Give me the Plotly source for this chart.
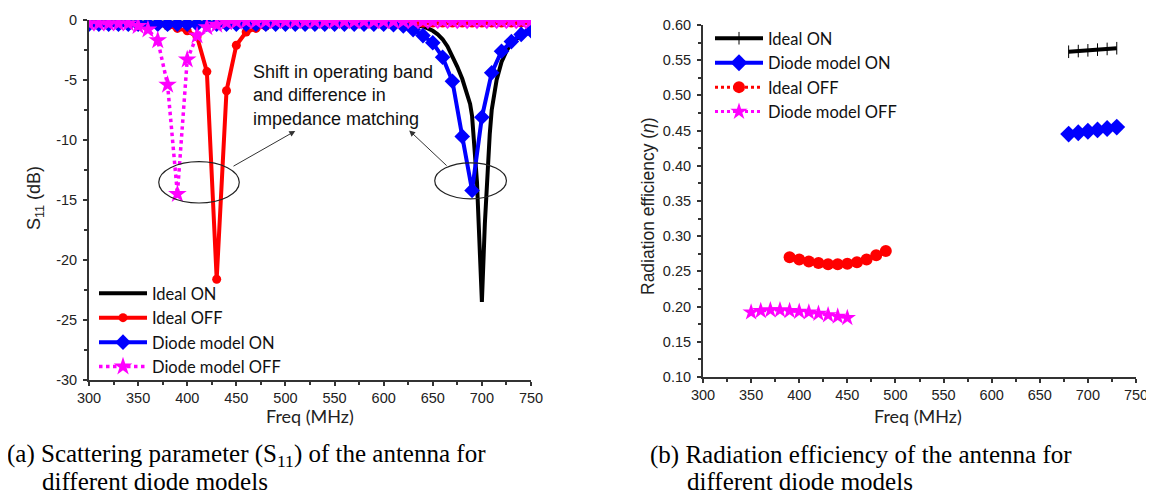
import plotly.graph_objects as go

# ---------------- data: (a) S11 ----------------
freq_on = [300, 350, 400, 450, 500, 550, 600, 620, 630, 640, 645, 650, 655, 660, 665, 670, 675, 680, 685,
           688, 690, 693, 695, 697, 700, 703, 705, 708, 710, 715, 720, 725, 730, 740, 750]
s11_ideal_on = [-0.2, -0.2, -0.2, -0.2, -0.2, -0.2, -0.25, -0.3, -0.4, -0.55, -0.7, -0.9, -1.2, -1.6, -2.2,
                -3.0, -3.9, -4.9, -6.2, -7.0, -8.0, -10.8, -13.5, -17.5, -23.5, -17.0, -13.6, -9.5, -7.5,
                -5.0, -3.5, -2.6, -1.9, -1.3, -1.0]

freq10 = list(range(300, 751, 10))
s11_ideal_off = [-0.2, -0.2, -0.2, -0.25, -0.3, -0.3, -0.35, -0.4, -0.5, -0.7, -0.9, -1.4, -4.3, -21.6,
                 -5.9, -2.1, -1.0, -0.7, -0.5, -0.4, -0.35, -0.3, -0.3, -0.3, -0.3, -0.25, -0.25, -0.25,
                 -0.25, -0.25, -0.25, -0.25, -0.25, -0.25, -0.25, -0.25, -0.25, -0.25, -0.25, -0.25,
                 -0.25, -0.25, -0.25, -0.25, -0.25, -0.25]
s11_diode_on = [-0.35, -0.35, -0.35, -0.35, -0.35, -0.35, -0.35, -0.35, -0.35, -0.35, -0.35, -0.35, -0.35,
                -0.35, -0.35, -0.35, -0.35, -0.35, -0.35, -0.35, -0.35, -0.35, -0.35, -0.35, -0.35, -0.35,
                -0.35, -0.35, -0.35, -0.35, -0.35, -0.4, -0.5, -0.8, -1.3, -1.9, -3.1, -5.1, -9.7, -14.2,
                -8.1, -4.4, -2.6, -1.8, -1.2, -0.9]
s11_diode_off = [-0.3, -0.3, -0.3, -0.3, -0.3, -0.5, -0.8, -1.7, -5.4, -14.5, -3.3, -1.3, -0.6, -0.4,
                 -0.2, -0.15, -0.1, -0.1, -0.1, -0.1, -0.1, -0.1, -0.1, -0.1, -0.1, -0.1, -0.1, -0.1,
                 -0.1, -0.1, -0.1, -0.1, -0.1, -0.1, -0.1, -0.1, -0.1, -0.1, -0.1, -0.1, -0.1, -0.1,
                 -0.1, -0.1, -0.1, -0.1]
s11_ticks = [0, -5, -10, -15, -20, -25, -30]
s11_ticktext = ["0", "-5", "-10", "-15", "-20", "-25", "-30"]

# ---------------- data: (b) radiation efficiency ----------------
freq_eff_on = [680, 690, 700, 710, 720, 730]
eff_ideal_on = [0.562, 0.563, 0.564, 0.565, 0.566, 0.567]
eff_diode_on = [0.445, 0.447, 0.449, 0.451, 0.453, 0.455]
freq_eff_ideal_off = [390, 400, 410, 420, 430, 440, 450, 460, 470, 480, 490]
eff_ideal_off = [0.270, 0.267, 0.264, 0.262, 0.260, 0.260, 0.261, 0.263, 0.267, 0.273, 0.279]
freq_eff_diode_off = [350, 360, 370, 380, 390, 400, 410, 420, 430, 440, 450]
eff_diode_off = [0.192, 0.194, 0.195, 0.195, 0.194, 0.193, 0.192, 0.190, 0.188, 0.186, 0.184]

BLACK, RED, BLUE, MAG = "#000000", "#ff0000", "#0000ff", "#ff00ff"
AX = "#333333"
SANS = "Liberation Sans, Arial, sans-serif"
CAL = "Lato, Carlito, sans-serif"
SERIF = "Liberation Serif, Times New Roman, serif"

fig = go.Figure()

# ---- left subplot traces ----
fig.add_trace(go.Scatter(x=freq_on, y=s11_ideal_on, name="Ideal ON", mode="lines",
                         line=dict(color=BLACK, width=4), xaxis="x", yaxis="y", legend="legend"))
fig.add_trace(go.Scatter(x=freq10, y=s11_ideal_off, name="Ideal OFF", mode="lines+markers",
                         line=dict(color=RED, width=4), marker=dict(symbol="circle", size=9, color=RED),
                         xaxis="x", yaxis="y", legend="legend"))
fig.add_trace(go.Scatter(x=freq10, y=s11_diode_on, name="Diode model ON", mode="lines+markers",
                         line=dict(color=BLUE, width=4), marker=dict(symbol="diamond", size=12, color=BLUE),
                         xaxis="x", yaxis="y", legend="legend"))
fig.add_trace(go.Scatter(x=freq10, y=s11_diode_off, name="Diode model OFF", mode="lines+markers",
                         line=dict(color=MAG, width=3.5, dash="dot"),
                         marker=dict(symbol="star", size=14, color=MAG),
                         xaxis="x", yaxis="y", legend="legend"))

# ---- right subplot traces ----
fig.add_trace(go.Scatter(x=freq_eff_on, y=eff_ideal_on, name="Ideal ON", mode="lines+markers",
                         line=dict(color=BLACK, width=4),
                         marker=dict(symbol="line-ns", size=9, color=BLACK, line=dict(width=1, color=BLACK)),
                         xaxis="x2", yaxis="y2", legend="legend2"))
fig.add_trace(go.Scatter(x=freq_eff_on, y=eff_diode_on, name="Diode model ON", mode="lines+markers",
                         line=dict(color=BLUE, width=4), marker=dict(symbol="diamond", size=13, color=BLUE),
                         xaxis="x2", yaxis="y2", legend="legend2"))
fig.add_trace(go.Scatter(x=freq_eff_ideal_off, y=eff_ideal_off, name="Ideal OFF", mode="lines+markers",
                         line=dict(color=RED, width=3, dash="dot"),
                         marker=dict(symbol="circle", size=12, color=RED),
                         xaxis="x2", yaxis="y2", legend="legend2"))
fig.add_trace(go.Scatter(x=freq_eff_diode_off, y=eff_diode_off, name="Diode model OFF", mode="lines+markers",
                         line=dict(color=MAG, width=3, dash="dot"),
                         marker=dict(symbol="star", size=13, color=MAG),
                         xaxis="x2", yaxis="y2", legend="legend2"))

# page body has an 8px margin: map screen pixels of the reference to paper fractions
OFF = 8
W, H = 1154 - OFF, 495 - OFF
def px(xp): return (xp - OFF) / W
def py(yp): return 1 - (yp - OFF) / H

axis_common = dict(showline=True, linecolor=AX, linewidth=2, ticks="outside", ticklen=4, tickwidth=1.5,
                   tickcolor=AX, showgrid=False, zeroline=False, mirror=False, automargin=False,
                   tickfont=dict(family=SANS, size=14.5, color="#222222"))

fig.update_layout(
    width=W, height=H, margin=dict(l=0, r=0, t=0, b=0, autoexpand=False),
    paper_bgcolor="white", plot_bgcolor="white", showlegend=True,
    xaxis=dict(domain=[px(89), px(531)], range=[300, 750], dtick=50, anchor="y",
               minor=dict(ticks="outside", ticklen=3, dtick=25, tickcolor=AX),
               **axis_common),
    yaxis=dict(domain=[py(380), py(20)], range=[-30, 0], tickvals=s11_ticks, ticktext=s11_ticktext,
               anchor="x", ticklabelstandoff=3,
               minor=dict(ticks="outside", ticklen=3, dtick=2.5, tickcolor=AX),
               **axis_common),
    xaxis2=dict(domain=[px(703), px(1136)], range=[300, 750], dtick=50, anchor="y2",
                minor=dict(ticks="outside", ticklen=3, dtick=25, tickcolor=AX),
                **axis_common),
    yaxis2=dict(domain=[py(377), py(25)], range=[0.10, 0.60], dtick=0.05, tickformat=".2f", anchor="x2",
                ticklabelstandoff=3,
                minor=dict(ticks="outside", ticklen=3, dtick=0.025, tickcolor=AX),
                **axis_common),
    legend=dict(x=px(94), y=py(276), xanchor="left", yanchor="top", bgcolor="rgba(0,0,0,0)",
                font=dict(family=CAL, size=16.5, color="#111111"), itemwidth=48, tracegroupgap=0,
                traceorder="normal"),
    legend2=dict(x=px(710), y=py(21), xanchor="left", yanchor="top", bgcolor="rgba(0,0,0,0)",
                 font=dict(family=CAL, size=16.5, color="#111111"), itemwidth=48, tracegroupgap=0,
                 traceorder="normal"),
)

# axis titles
titles = [
    (310, 416, 0, "Freq (MHz)", CAL, 18),
    (918, 416, 0, "Freq (MHz)", CAL, 18),
    (35, 198, -90, "S<sub>11</sub> (dB)", SANS, 18),
    (648, 206, -90, "Radiation efficiency (<i>η</i>)", SANS, 17.5),
]
for xp, yp, ang, t, fam, sz in titles:
    fig.add_annotation(x=px(xp), y=py(yp), xref="paper", yref="paper", xanchor="center", yanchor="middle",
                       textangle=ang, showarrow=False, text=t, font=dict(family=fam, size=sz, color="#222222"))

# annotation text, ellipses and arrows on the S11 plot
fig.add_annotation(x=465, y=-3.3, xref="x", yref="y", xanchor="left", yanchor="top", align="left",
                   showarrow=False, text="Shift in operating band<br>and difference in<br>impedance matching",
                   font=dict(family=SANS, size=18, color="#111111"))
fig.add_shape(type="circle", xref="x", yref="y", x0=371, x1=453, y0=-11.8, y1=-15.25,
              line=dict(color="#222222", width=1.2))
fig.add_shape(type="circle", xref="x", yref="y", x0=652, x1=725, y0=-11.9, y1=-14.9,
              line=dict(color="#222222", width=1.2))
fig.add_annotation(x=510, y=-9.25, ax=445.6, ay=-12.25, xref="x", yref="y", axref="x", ayref="y",
                   showarrow=True, arrowhead=2, arrowsize=1.2, arrowwidth=1, arrowcolor="#333333", text="")
fig.add_annotation(x=626, y=-9.2, ax=665.6, ay=-12.25, xref="x", yref="y", axref="x", ayref="y",
                   showarrow=True, arrowhead=2, arrowsize=1.2, arrowwidth=1, arrowcolor="#333333", text="")

# captions
caps = [
    (5, 455, "(a) Scattering parameter (S<sub>11</sub>) of the antenna for"),
    (40, 481, "different diode models"),
    (648, 455, "(b) Radiation efficiency of the antenna for"),
    (685, 481, "different diode models"),
]
for xp, yp, t in caps:
    fig.add_annotation(x=px(xp), y=py(yp), xref="paper", yref="paper", xanchor="left", yanchor="middle",
                       showarrow=False, text=t, font=dict(family=SERIF, size=25, color="#000000"))

fig.write_html("out.html")
